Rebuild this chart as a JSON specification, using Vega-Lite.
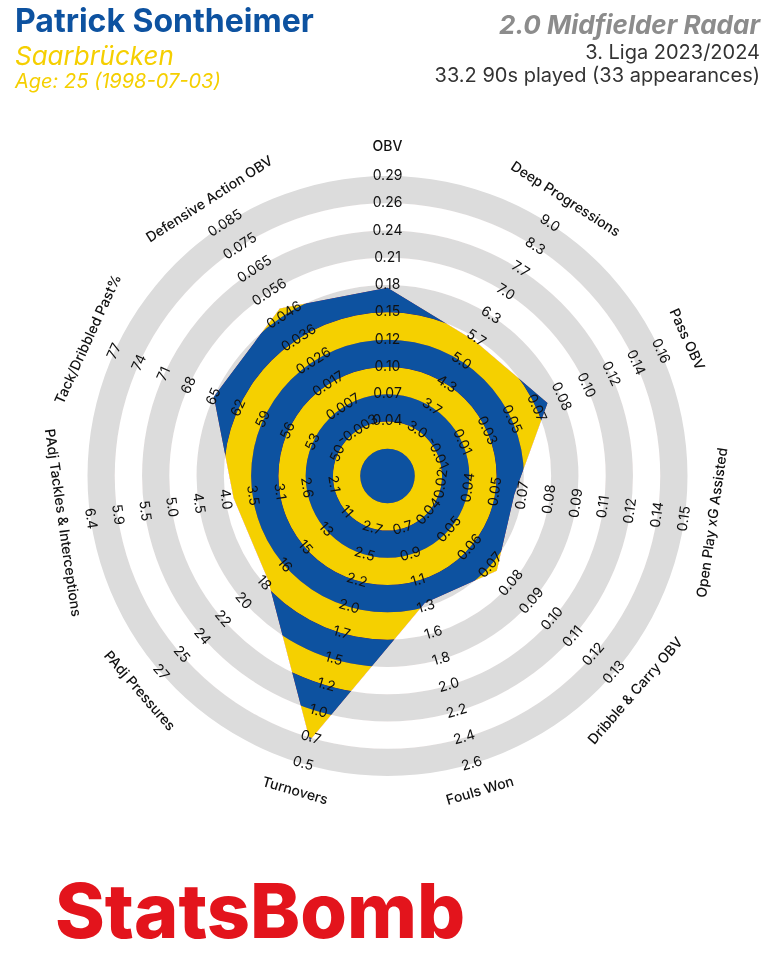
{
  "$schema": "https://vega.github.io/schema/vega-lite/v6.json",
  "padding": {"left": 0, "top": 5, "right": 0, "bottom": 20},
  "background": "white",
  "spacing": 0,
  "bounds": "flush",
  "config": {"view": {"stroke": null, "discreteHeight": 0.01}, "font": "Inter", "concat": {"spacing": 0}},
  "datasets": {
    "axes": [
      {"i": 0, "metric": "OBV", "score": 6.9, "ticks": ["0.04","0.07","0.10","0.12","0.15","0.18","0.21","0.24","0.26","0.29"]},
      {"i": 1, "metric": "Deep Progressions", "score": 5.9, "ticks": ["3.0","3.7","4.3","5.0","5.7","6.3","7.0","7.7","8.3","9.0"]},
      {"i": 2, "metric": "Pass OBV", "score": 6.45, "ticks": ["-0.01","0.01","0.03","0.05","0.07","0.08","0.10","0.12","0.14","0.16"]},
      {"i": 3, "metric": "Open Play xG Assisted", "score": 4.7, "ticks": ["0.02","0.04","0.05","0.07","0.08","0.09","0.11","0.12","0.14","0.15"]},
      {"i": 4, "metric": "Dribble & Carry OBV", "score": 5.3, "ticks": ["0.04","0.05","0.06","0.07","0.08","0.09","0.10","0.11","0.12","0.13"]},
      {"i": 5, "metric": "Fouls Won", "score": 4.85, "ticks": ["0.7","0.9","1.1","1.3","1.6","1.8","2.0","2.2","2.4","2.6"]},
      {"i": 6, "metric": "Turnovers", "score": 10.1, "ticks": ["2.7","2.5","2.2","2.0","1.7","1.5","1.2","1.0","0.7","0.5"]},
      {"i": 7, "metric": "PAdj Pressures", "score": 5.8, "ticks": ["11","13","15","16","18","20","22","24","25","27"]},
      {"i": 8, "metric": "PAdj Tackles & Interceptions", "score": 5.7, "ticks": ["2.1","2.6","3.1","3.5","4.0","4.5","5.0","5.5","5.9","6.4"]},
      {"i": 9, "metric": "Tack/Dribbled Past%", "score": 7.0, "ticks": ["50","53","56","59","62","65","68","71","74","77"]},
      {"i": 10, "metric": "Defensive Action OBV", "score": 7.3, "ticks": ["-0.003","0.007","0.017","0.026","0.036","0.046","0.056","0.065","0.075","0.085"]}
    ],
    "rings": [
      {"k": 1, "inner": 0, "outer": 1, "band": "odd"},
      {"k": 2, "inner": 1, "outer": 2, "band": "even"},
      {"k": 3, "inner": 2, "outer": 3, "band": "odd"},
      {"k": 4, "inner": 3, "outer": 4, "band": "even"},
      {"k": 5, "inner": 4, "outer": 5, "band": "odd"},
      {"k": 6, "inner": 5, "outer": 6, "band": "even"},
      {"k": 7, "inner": 6, "outer": 7, "band": "odd"},
      {"k": 8, "inner": 7, "outer": 8, "band": "even"},
      {"k": 9, "inner": 8, "outer": 9, "band": "odd"},
      {"k": 10, "inner": 9, "outer": 10, "band": "even"},
      {"k": 11, "inner": 10, "outer": 11, "band": "odd"}
    ]
  },
  "vconcat": [
    {
      "width": 775, "height": 0.01,
      "data": {"values": []},
      "mark": "point",
      "title": {
        "text": "Patrick Sontheimer", "subtitle": "Saarbrücken",
        "anchor": "start", "frame": "group", "dx": 15, "offset": 27.5,
        "font": "Inter", "fontSize": 32, "fontWeight": "bold", "color": "#0d52a0",
        "subtitleFont": "Inter", "subtitleFontSize": 26, "subtitleFontStyle": "italic",
        "subtitleFontWeight": "normal", "subtitleColor": "#f5cf00", "subtitlePadding": 5
      }
    },
    {
      "width": 775, "height": 0.01,
      "data": {"values": []},
      "mark": "point",
      "title": {
        "text": "Age: 25 (1998-07-03)",
        "anchor": "start", "frame": "group", "dx": 15, "offset": 7,
        "font": "Inter", "fontSize": 20, "fontWeight": "normal", "fontStyle": "italic", "color": "#f5cf00"
      }
    },
    {
      "width": 775, "height": 0.01,
      "data": {"values": []},
      "mark": "point",
      "title": {
        "text": "2.0 Midfielder Radar",
        "subtitle": ["3. Liga 2023/2024", "33.2 90s played (33 appearances)"],
        "anchor": "end", "frame": "group", "dx": -15, "offset": 14,
        "font": "Inter", "fontSize": 26, "fontWeight": "bold", "fontStyle": "italic", "color": "#8c8c8c",
        "subtitleFont": "Inter", "subtitleFontSize": 20, "subtitleColor": "#333333", "subtitlePadding": 4,
        "subtitleLineHeight": 23
      }
    },
    {
      "width": 775,
      "height": 750,
      "title": {
        "text": "StatsBomb", "orient": "bottom", "anchor": "start", "frame": "group",
        "dx": 55, "offset": 27, "font": "Inter", "fontSize": 75.5, "fontWeight": 800, "color": "#e3141c"
      },
      "layer": [
        {
          "data": {"name": "rings"},
          "transform": [{"filter": "datum.band == 'odd'"}],
          "mark": {"type": "arc", "fill": "#dcdcdc"},
          "encoding": {
            "theta": {"value": 0},
            "theta2": {"value": 6.2832},
            "radius": {"field": "outer", "type": "quantitative", "scale": {"type": "linear", "domain": [0, 11], "range": [0, 300], "zero": true}},
            "radius2": {"field": "inner"}
          }
        },
        {
          "data": {"name": "axes"},
          "transform": [
            {"calculate": "datum.i * 2 * PI / 11", "as": "a"},
            {"calculate": "datum.score * sin(datum.a)", "as": "px"},
            {"calculate": "datum.score * cos(datum.a)", "as": "py"}
          ],
          "mark": {"type": "line", "interpolate": "linear-closed", "fill": "#000000", "stroke": "#000000", "strokeWidth": 0},
          "encoding": {
            "x": {"field": "px", "type": "quantitative", "scale": {"domain": [-14.2083, 14.2083], "nice": false, "zero": false}, "axis": null},
            "y": {"field": "py", "type": "quantitative", "scale": {"domain": [-13.75, 13.75], "nice": false, "zero": false}, "axis": null},
            "order": {"field": "i", "type": "quantitative"}
          }
        },
        {
          "data": {"name": "rings"},
          "mark": {"type": "arc", "blend": "lighten"},
          "encoding": {
            "theta": {"value": 0},
            "theta2": {"value": 6.2832},
            "radius": {"field": "outer", "type": "quantitative", "scale": {"type": "linear", "domain": [0, 11], "range": [0, 300], "zero": true}},
            "radius2": {"field": "inner"},
            "color": {"field": "band", "type": "nominal", "scale": {"domain": ["odd", "even"], "range": ["#0d52a0", "#f5d000"]}, "legend": null}
          }
        },
        {
          "data": {"name": "axes"},
          "transform": [
            {"flatten": ["ticks"], "as": ["t"]},
            {"window": [{"op": "row_number", "as": "n"}], "groupby": ["i"]},
            {"calculate": "datum.n + 1", "as": "k"},
            {"calculate": "datum.i * 2 * PI / 11", "as": "a"},
            {"calculate": "datum.k * sin(datum.a)", "as": "px"},
            {"calculate": "datum.k * cos(datum.a)", "as": "py"},
            {"calculate": "datum.i * 360 / 11", "as": "deg"},
            {"calculate": "datum.deg <= 90 ? datum.deg : (datum.deg < 270 ? datum.deg - 180 : datum.deg - 360)", "as": "rot"}
          ],
          "mark": {"type": "text", "font": "Inter", "fontSize": 14, "color": "#111111", "align": "center", "baseline": "middle"},
          "encoding": {
            "x": {"field": "px", "type": "quantitative", "scale": {"domain": [-14.2083, 14.2083], "nice": false, "zero": false}, "axis": null},
            "y": {"field": "py", "type": "quantitative", "scale": {"domain": [-13.75, 13.75], "nice": false, "zero": false}, "axis": null},
            "text": {"field": "t"},
            "angle": {"field": "rot", "type": "quantitative", "scale": null}
          }
        },
        {
          "data": {"name": "axes"},
          "transform": [
            {"calculate": "datum.i * 2 * PI / 11", "as": "a"},
            {"calculate": "12.05 * sin(datum.a)", "as": "px"},
            {"calculate": "12.05 * cos(datum.a)", "as": "py"},
            {"calculate": "datum.i * 360 / 11", "as": "deg"},
            {"calculate": "datum.deg <= 90 ? datum.deg : (datum.deg < 270 ? datum.deg - 180 : datum.deg - 360)", "as": "rot"}
          ],
          "mark": {"type": "text", "font": "Inter", "fontSize": 14, "fontWeight": 500, "color": "#111111", "align": "center", "baseline": "middle"},
          "encoding": {
            "x": {"field": "px", "type": "quantitative", "scale": {"domain": [-14.2083, 14.2083], "nice": false, "zero": false}, "axis": null},
            "y": {"field": "py", "type": "quantitative", "scale": {"domain": [-13.75, 13.75], "nice": false, "zero": false}, "axis": null},
            "text": {"field": "metric"},
            "angle": {"field": "rot", "type": "quantitative", "scale": null}
          }
        }
      ]
    }
  ]
}
